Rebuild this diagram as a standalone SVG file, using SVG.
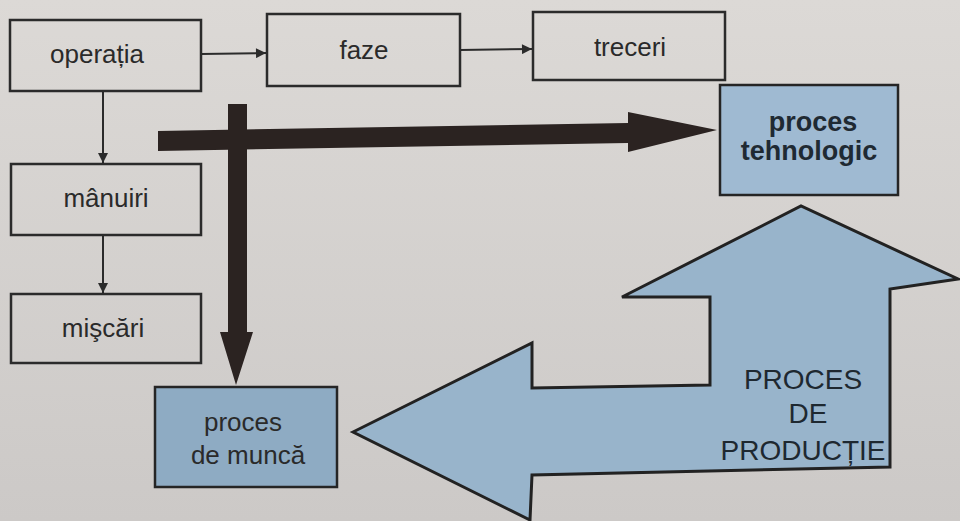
<svg xmlns="http://www.w3.org/2000/svg" width="960" height="521" viewBox="0 0 960 521">
  <defs>
    <linearGradient id="bg" x1="0" y1="0" x2="0" y2="1">
      <stop offset="0" stop-color="#dcd9d6"/>
      <stop offset="1" stop-color="#ccc9c7"/>
    </linearGradient>
    <marker id="ah" viewBox="0 0 10 10" refX="10" refY="5" markerWidth="12" markerHeight="10" markerUnits="userSpaceOnUse" orient="auto">
      <path d="M0,0 L10,5 L0,10 Z" fill="#2b2b2b"/>
    </marker>
    <style>
      .box { fill: none; stroke: #2b2b2b; stroke-width: 2.5; }
      .bluebox { stroke: #252525; stroke-width: 2.5; }
      .lbl { font-family: "Liberation Sans", Arial, sans-serif; font-size: 26px; fill: #2a2a2a; text-anchor: middle; }
      .bold { font-weight: bold; font-size: 27px; fill: #1f2a33; }
      .caps { font-size: 28px; fill: #1e2830; }
      .thin { stroke: #2b2b2b; stroke-width: 2; fill: none; marker-end: url(#ah); }
      .dark { fill: #2b2321; }
    </style>
  </defs>
  <rect x="0" y="0" width="960" height="521" fill="url(#bg)"/>

  <g id="productie">
    <polygon points="353,432 532,343 532,388 710,385 710,297 622,297 801,206 958,279 890,289 890,467 532,475 530,520" fill="#98b4cb" stroke="#222" stroke-width="3" stroke-linejoin="miter"/>
    <text class="lbl caps" x="803" y="389">PROCES</text>
    <text class="lbl caps" x="808" y="423">DE</text>
    <text class="lbl caps" x="803" y="460">PRODUCȚIE</text>
  </g>

  <g id="connectors">
    <line class="thin" x1="201" y1="54" x2="266" y2="53"/>
    <line class="thin" x1="460" y1="50" x2="532" y2="49"/>
    <line class="thin" x1="103" y1="91" x2="103" y2="163"/>
    <line class="thin" x1="103" y1="235" x2="103" y2="293"/>
    <polygon class="dark" points="158,131 628,123 628,112 717,130 628,152 628,143 158,151"/>
    <polygon class="dark" points="228,104 247,104 247,332 253,332 236,385 220,332 228,332"/>
  </g>

  <g id="operatia">
    <rect class="box" x="10" y="20" width="191" height="71"/>
    <text class="lbl" x="97" y="63">operația</text>
  </g>
  <g id="faze">
    <rect class="box" x="267" y="14" width="193" height="72"/>
    <text class="lbl" x="364" y="59">faze</text>
  </g>
  <g id="treceri">
    <rect class="box" x="533" y="12" width="192" height="68"/>
    <text class="lbl" x="630" y="56">treceri</text>
  </g>
  <g id="manuiri">
    <rect class="box" x="11" y="164" width="190" height="71"/>
    <text class="lbl" x="106" y="207">mânuiri</text>
  </g>
  <g id="miscari">
    <rect class="box" x="11" y="294" width="190" height="69"/>
    <text class="lbl" x="103" y="337">mişcări</text>
  </g>
  <g id="tehnologic">
    <rect class="bluebox" x="720" y="85" width="178" height="110" fill="#9fbad2"/>
    <text class="lbl bold" x="813" y="131">proces</text>
    <text class="lbl bold" x="809" y="160">tehnologic</text>
  </g>
  <g id="munca">
    <rect class="bluebox" x="155" y="387" width="182" height="100" fill="#8eabc3"/>
    <text class="lbl" x="243" y="431">proces</text>
    <text class="lbl" x="248" y="464">de muncă</text>
  </g>
</svg>
